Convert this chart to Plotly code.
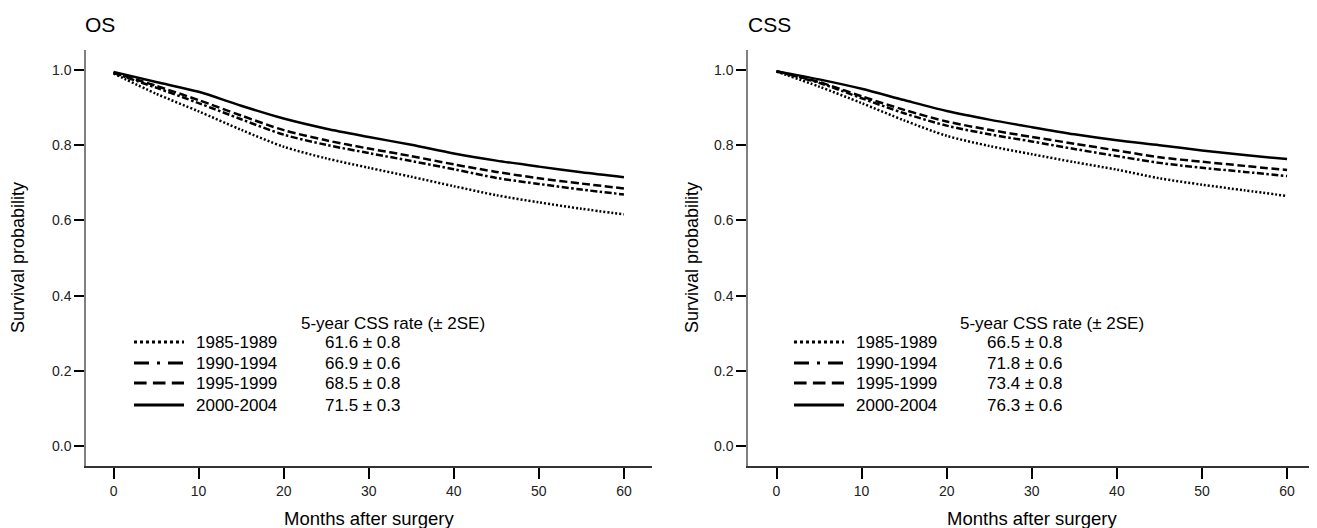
import plotly.graph_objects as go

# ---------------- data ----------------
months = [0, 5, 10, 15, 20, 25, 30, 35, 40, 45, 50, 55, 60]

periods = ["1985-1989", "1990-1994", "1995-1999", "2000-2004"]

os_1985 = [0.991, 0.937, 0.890, 0.841, 0.796, 0.765, 0.740, 0.716, 0.691, 0.667, 0.648, 0.631, 0.616]
os_1990 = [0.992, 0.953, 0.912, 0.869, 0.828, 0.801, 0.779, 0.758, 0.736, 0.713, 0.697, 0.682, 0.669]
os_1995 = [0.993, 0.958, 0.920, 0.879, 0.840, 0.813, 0.791, 0.771, 0.749, 0.729, 0.712, 0.698, 0.685]
os_2000 = [0.995, 0.968, 0.942, 0.905, 0.871, 0.844, 0.822, 0.801, 0.778, 0.759, 0.743, 0.728, 0.715]

css_1985 = [0.996, 0.956, 0.912, 0.866, 0.825, 0.798, 0.776, 0.755, 0.735, 0.712, 0.695, 0.680, 0.665]
css_1990 = [0.996, 0.966, 0.925, 0.885, 0.852, 0.829, 0.810, 0.790, 0.771, 0.753, 0.740, 0.729, 0.718]
css_1995 = [0.997, 0.968, 0.930, 0.894, 0.863, 0.841, 0.822, 0.804, 0.786, 0.768, 0.756, 0.745, 0.734]
css_2000 = [0.997, 0.975, 0.950, 0.920, 0.891, 0.868, 0.848, 0.829, 0.813, 0.800, 0.786, 0.774, 0.763]

os_rates = ["61.6 ± 0.8", "66.9 ± 0.6", "68.5 ± 0.8", "71.5 ± 0.3"]
css_rates = ["66.5 ± 0.8", "71.8 ± 0.6", "73.4 ± 0.8", "76.3 ± 0.6"]

x_ticks = [0, 10, 20, 30, 40, 50, 60]
y_ticks = [0.0, 0.2, 0.4, 0.6, 0.8, 1.0]
y_ticktext = ["0.0", "0.2", "0.4", "0.6", "0.8", "1.0"]

panel_titles = ["OS", "CSS"]
legend_header = "5-year CSS rate (± 2SE)"
x_title = "Months after surgery"
y_title = "Survival probability"

# ---------------- styles ----------------
PAGE_W, PAGE_H = 1317, 528
OFF = 8                      # default page body margin
W, H = PAGE_W - OFF, PAGE_H - OFF
FONT = "Liberation Sans, Arial, Helvetica, sans-serif"

curve_dash = ["2px,2px", "7px,2.5px,2.5px,2.5px", "8px,3.5px", "solid"]
legend_dash = ["3px,3px", "15px,8px,3px,8px", "12.6px,6.3px", "solid"]


def px_x(p):
    return min(1.0, (p - OFF) / W)


def px_y(p):
    return 1 - (p - OFF) / H


fig = go.Figure()

os_series = [os_1985, os_1990, os_1995, os_2000]
css_series = [css_1985, css_1990, css_1995, css_2000]

for axis_id, series in (("", os_series), ("2", css_series)):
    for name, vals, dash in zip(periods, series, curve_dash):
        fig.add_trace(go.Scatter(
            x=months, y=vals, mode="lines", name=name,
            line=dict(color="black", width=2.5, dash=dash, shape="spline", smoothing=0.8),
            xaxis="x" + axis_id, yaxis="y" + axis_id, showlegend=False,
        ))

x_common = dict(
    tickvals=x_ticks, ticks="outside", ticklen=11, tickwidth=2,
    tickcolor="black", showline=True, linecolor="#333333", linewidth=1.5,
    showgrid=False, zeroline=False, tickfont=dict(family=FONT, size=14, color="#222222"),
)
y_common = dict(
    range=[-0.0532, 1.0532], tickvals=y_ticks, ticktext=y_ticktext, ticks="outside",
    ticklen=10, tickwidth=1.5, tickcolor="black", showline=True, linecolor="#808080",
    linewidth=1.5, showgrid=False, zeroline=False,
    tickfont=dict(family=FONT, size=14, color="#222222"),
)

y_dom = [px_y(466), px_y(50)]
fig.update_layout(
    width=W, height=H, autosize=False,
    margin=dict(l=0, r=0, t=0, b=0),
    paper_bgcolor="white", plot_bgcolor="white",
    font=dict(family=FONT, color="black"),
    xaxis=dict(domain=[px_x(86), px_x(652)], anchor="y", range=[-3.24, 63.3], **x_common),
    yaxis=dict(domain=y_dom, anchor="x", **y_common),
    xaxis2=dict(domain=[px_x(748), px_x(1316)], anchor="y2", range=[-3.35, 63.4], **x_common),
    yaxis2=dict(domain=y_dom, anchor="x2", **y_common),
)

annotations = []
shapes = []

panels = [
    dict(axis_left=86, axis_right=652, title_x=83, ytitle_x=18,
         samp=(134, 184), lab_x=194, val_x=323, head_x=299, rates=os_rates),
    dict(axis_left=748, axis_right=1316, title_x=746, ytitle_x=692,
         samp=(794, 844), lab_x=854, val_x=985, head_x=958, rates=css_rates),
]
row_y = [342, 363, 383, 405]
head_y = 323

for title, p in zip(panel_titles, panels):
    annotations.append(dict(text=title, x=px_x(p["title_x"]), y=px_y(25), xref="paper", yref="paper",
                            xanchor="left", yanchor="middle", showarrow=False,
                            font=dict(family=FONT, size=21, color="black")))
    annotations.append(dict(text=y_title, x=px_x(p["ytitle_x"]), y=px_y(258), xref="paper", yref="paper",
                            xanchor="center", yanchor="middle", textangle=-90, showarrow=False,
                            font=dict(family=FONT, size=18, color="black")))
    annotations.append(dict(text=x_title, x=px_x((p["axis_left"] + p["axis_right"]) / 2), y=px_y(518),
                            xref="paper", yref="paper", xanchor="center", yanchor="middle",
                            showarrow=False, font=dict(family=FONT, size=18.5, color="black")))
    annotations.append(dict(text=legend_header, x=px_x(p["head_x"]), y=px_y(head_y), xref="paper",
                            yref="paper", xanchor="left", yanchor="middle", showarrow=False,
                            font=dict(family=FONT, size=17, color="black")))
    for name, rate, ry, ldash in zip(periods, p["rates"], row_y, legend_dash):
        shapes.append(dict(type="line", xref="paper", yref="paper",
                           x0=px_x(p["samp"][0]), x1=px_x(p["samp"][1]), y0=px_y(ry), y1=px_y(ry),
                           line=dict(color="black", width=3, dash=ldash)))
        annotations.append(dict(text=name, x=px_x(p["lab_x"]), y=px_y(ry), xref="paper", yref="paper",
                                xanchor="left", yanchor="middle", showarrow=False,
                                font=dict(family=FONT, size=17, color="black")))
        annotations.append(dict(text=rate, x=px_x(p["val_x"]), y=px_y(ry), xref="paper", yref="paper",
                                xanchor="left", yanchor="middle", showarrow=False,
                                font=dict(family=FONT, size=17, color="black")))

fig.update_layout(annotations=annotations, shapes=shapes)

fig.write_html("out.html")
